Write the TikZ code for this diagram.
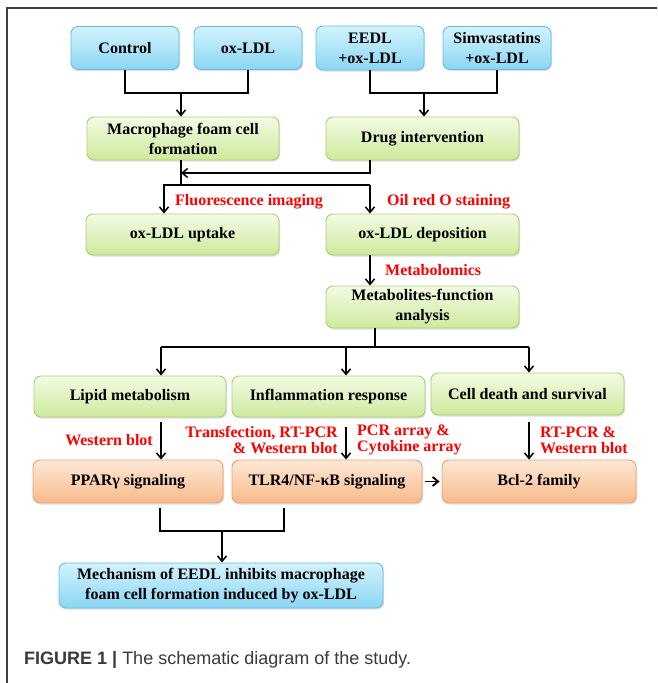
\documentclass[tikz,border=0pt]{standalone}
\usepackage{fontspec}
\setmainfont{Liberation Serif}
\newfontfamily\capfont{Liberation Sans}
\usetikzlibrary{arrows.meta,shadows,calc}
\definecolor{bluetop}{HTML}{D3F3FD}
\definecolor{bluebot}{HTML}{8AD6F4}
\definecolor{blueedge}{HTML}{66BDE0}
\definecolor{greentop}{HTML}{F4FBE4}
\definecolor{greenbot}{HTML}{CDEA9C}
\definecolor{greenedge}{HTML}{ABCF78}
\definecolor{orangetop}{HTML}{FDE8D6}
\definecolor{orangebot}{HTML}{F8BA8A}
\definecolor{orangeedge}{HTML}{EBA36F}
\definecolor{labred}{HTML}{FF0000}
\definecolor{framegray}{HTML}{3F3F3F}
\definecolor{capgray}{HTML}{3A3A3A}
\begin{document}
\begin{tikzpicture}[x=1pt,y=-1pt,
  box/.style={rounded corners=7pt, draw, line width=0.9pt, align=center, inner sep=2pt,
    font=\fontsize{16}{20}\selectfont\bfseries,
    drop shadow={shadow xshift=1pt,shadow yshift=-1.5pt,opacity=0.25}},
  bluebox/.style={box, draw=blueedge, top color=bluetop, bottom color=bluebot},
  greenbox/.style={box, draw=greenedge, top color=greentop, bottom color=greenbot},
  orangebox/.style={box, draw=orangeedge, top color=orangetop, bottom color=orangebot},
  conn/.style={line width=1.5pt, black},
  arr/.style={conn, -{Straight Barb[length=5.5pt,width=9pt]}},
  lab/.style={text=labred, font=\fontsize{16}{16}\selectfont\bfseries, inner sep=0pt},
]
\useasboundingbox (0,0) rectangle (657,683);
\fill[white] (0,0) rectangle (657,683);
\draw[framegray, line width=1.8pt] (657,8) -- (7,8) -- (7,683);

% row 1
\node[bluebox, minimum width=108pt, minimum height=43pt] (ctrl) at (125,48) {Control};
\node[bluebox, minimum width=108pt, minimum height=43pt] (oxldl) at (248,48) {ox-LDL};
\node[bluebox, minimum width=108pt, minimum height=44pt] (eedl) at (370,48) {EEDL\\+ox-LDL};
\node[bluebox, minimum width=108pt, minimum height=43pt] (simva) at (497,48) {Simvastatins\\+ox-LDL};

% row 2
\node[greenbox, minimum width=192pt, minimum height=43pt] (macro) at (183,138.5) {Macrophage foam cell\\formation};
\node[greenbox, minimum width=193pt, minimum height=43pt] (drug) at (422.5,138.5) {Drug intervention};

% row 3
\node[greenbox, minimum width=193pt, minimum height=41pt] (uptake) at (182.5,234.5) {ox-LDL uptake};
\node[greenbox, minimum width=193pt, minimum height=41pt] (depos) at (422.5,234.5) {ox-LDL deposition};

% row 4
\node[greenbox, minimum width=193pt, minimum height=42pt] (metab) at (422.5,307) {Metabolites-function\\analysis};

% row 5
\node[greenbox, minimum width=192pt, minimum height=41pt] (lipid) at (130,396.5) {Lipid metabolism};
\node[greenbox, minimum width=193pt, minimum height=41pt] (inflam) at (328.5,396.5) {Inflammation response};
\node[greenbox, minimum width=193pt, minimum height=42pt] (cell) at (527.5,394) {Cell death and survival};

% row 6
\node[orangebox, minimum width=190pt, minimum height=43pt] (ppar) at (128,481.5) {PPARγ signaling};
\node[orangebox, minimum width=190pt, minimum height=43pt] (tlr) at (327,481.5) {TLR4/NF-κB signaling};
\node[orangebox, minimum width=194pt, minimum height=43pt] (bcl) at (539,481.5) {Bcl-2 family};

% final
\node[bluebox, minimum width=324pt, minimum height=45pt] (mech) at (221,585.5) {Mechanism of EEDL inhibits macrophage\\foam cell formation induced by ox-LDL};

% connectors top
\coordinate (j1) at (181,93);
\draw[conn] (ctrl.south) |- (j1) -| (oxldl.south);
\draw[arr] (j1) -- (j1 |- macro.north);
\coordinate (j2) at (424,93);
\draw[conn] (eedl.south) |- (j2) -| (simva.south);
\draw[arr] (j2) -- (j2 |- drug.north);

\coordinate (j3) at (181,185);
\coordinate (j4) at (370,173);
\coordinate (u) at (164,185);
\coordinate (d) at (370,185);
\draw[conn] (j1 |- macro.south) -- (j3);
\draw[arr] (j4 |- drug.south) -- (j4) -- (j4 -| j3);
\draw[arr] (d) -- (u) -- (u |- uptake.north);
\draw[arr] (d) -- (d |- depos.north);
\draw[arr] (d |- depos.south) -- (d |- metab.north);

% branching
\coordinate (m) at (375,347);
\coordinate (ml) at (161,347);
\coordinate (mc) at (346,347);
\coordinate (mr) at (529,347);
\draw[conn] (m |- metab.south) -- (m);
\draw[conn] (ml) -- (mr);
\draw[arr] (ml) -- (ml |- lipid.north);
\draw[arr] (mc) -- (mc |- inflam.north);
\draw[arr] (mr) -- (mr |- cell.north);

\draw[arr, shorten <=5pt] (ml |- lipid.south) -- (ml |- ppar.north);
\draw[arr, shorten <=10pt] (mc |- inflam.south) -- (mc |- tlr.north);
\draw[arr, shorten <=7pt] (mr |- cell.south) -- (mr |- bcl.north);
\draw[arr, line width=1.8pt, shorten <=3pt, shorten >=2pt] (tlr.east) -- (bcl.west);

\coordinate (p) at (160,531);
\coordinate (t) at (284,531);
\coordinate (mm) at (222,531);
\draw[conn, shorten <=5pt, shorten >=5pt] (p |- ppar.south) -- (p) -- (t) -- (t |- tlr.south);
\draw[arr] (mm) -- (mm |- mech.north);

% labels
\node[lab, anchor=west] (fluo) at (175,202) {Fluorescence imaging};
\node[lab, anchor=west] (oil) at (387,202) {Oil red O staining};
\node[lab, anchor=west] (metlab) at (385,270) {Metabolomics};
\node[lab, anchor=east] (wb) at (153,440) {Western blot};
\node[lab, anchor=east, align=right] (tr) at (338,440) {Transfection, RT-PCR\\\& Western blot};
\node[lab, anchor=west, align=left] (pcr) at (357,440) {PCR array \&\\Cytokine array};
\node[lab, anchor=west, align=left] (rt) at (540,440) {RT-PCR \&\\Western blot};

% caption
\node[anchor=west, inner sep=0pt, text=capgray, font=\capfont\fontsize{18}{18}\selectfont] (cap) at (24,660) {\textbf{FIGURE 1} \textbf{|} The schematic diagram of the study.};
\end{tikzpicture}
\end{document}
